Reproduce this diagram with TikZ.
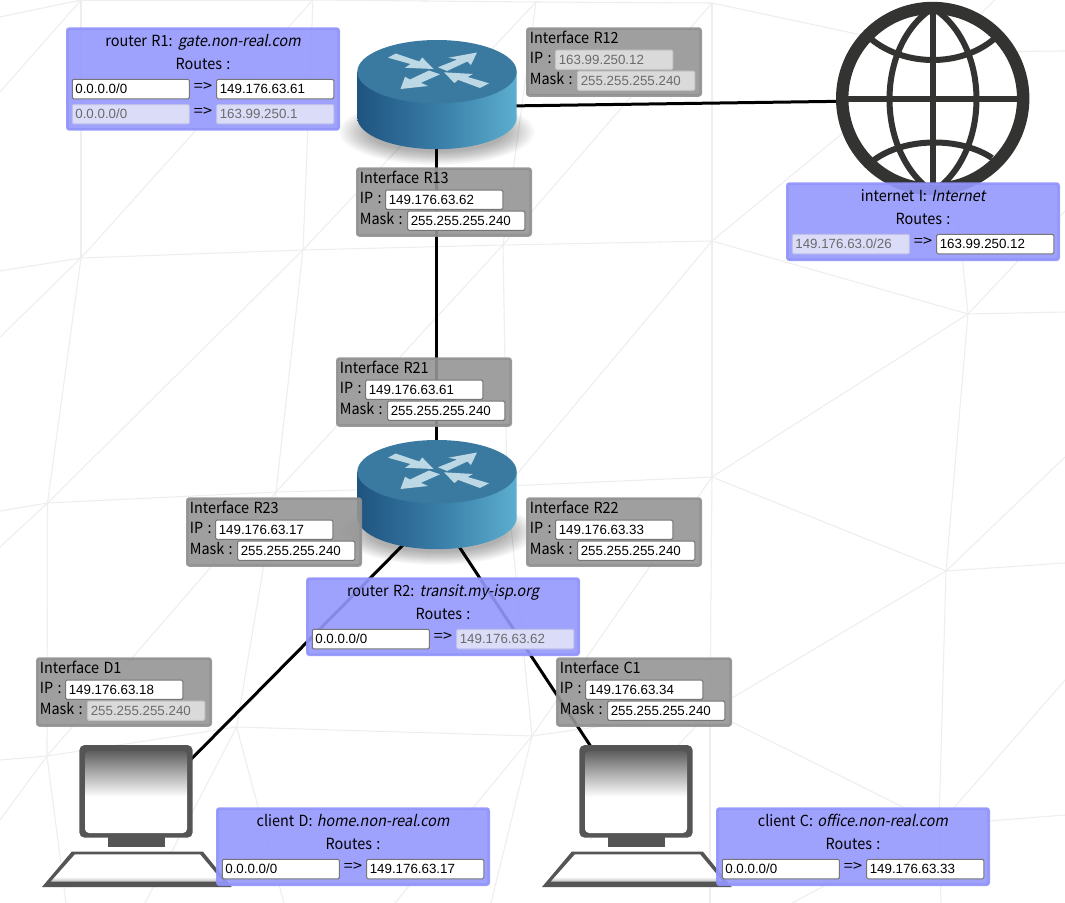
\documentclass[tikz,border=0pt]{standalone}
\usepackage{fontspec}
\setmainfont{Noto Sans CJK KR}[FakeStretch=0.94,WordSpace=1.35,ItalicFont={Noto Sans CJK KR},ItalicFeatures={FakeSlant=0.2,FakeStretch=0.94,WordSpace=1.35}]
\newfontfamily\inputfont{Liberation Sans}
\definecolor{meshc}{HTML}{EEEEEE}
\definecolor{graypanel}{HTML}{959595}
\definecolor{grayedge}{HTML}{909090}
\definecolor{bluepanel}{HTML}{9598FC}
\definecolor{blueedge}{HTML}{9093FA}
\definecolor{inedge}{HTML}{767676}
\definecolor{offgray}{HTML}{DADADA}
\definecolor{offblue}{HTML}{DBDCF8}
\definecolor{offgrayedge}{HTML}{C4C4C4}
\definecolor{offblueedge}{HTML}{BFC0E8}
\definecolor{offtext}{HTML}{6B6B6B}
\definecolor{globec}{HTML}{333331}
\definecolor{pcc}{HTML}{555555}
\definecolor{rtop}{HTML}{3B7AA0}
\definecolor{rleft}{HTML}{1F5480}
\definecolor{rmid}{HTML}{387CA6}
\definecolor{rright}{HTML}{5CAECF}
\definecolor{rarrow}{HTML}{BCD8E4}
\definecolor{screentop}{HTML}{5F5F5F}
\definecolor{kbdlow}{HTML}{BDBDBD}
\pgfdeclareverticalshading{monscreen}{100bp}{color(0bp)=(white); color(47bp)=(white); color(75bp)=(screentop); color(100bp)=(screentop)}
\pgfdeclareverticalshading{kbdshade}{100bp}{color(0bp)=(kbdlow); color(25bp)=(kbdlow); color(34bp)=(white); color(100bp)=(white)}
\pgfdeclarehorizontalshading{rside}{100bp}{color(0bp)=(rleft); color(25bp)=(rleft); color(50bp)=(rmid); color(75bp)=(rright); color(100bp)=(rright)}
\tikzset{
  meshline/.style={draw=meshc,line width=.8pt},
  link/.style={draw=black,line width=2.25pt},
  hub/.style={inner sep=0pt,minimum size=0pt,outer sep=0pt},
  panelgray/.style={draw=grayedge,fill=graypanel,opacity=.9,line width=2pt,rounded corners=1.6pt,anchor=north west,minimum width=130pt,minimum height=50.1pt,inner sep=0pt},
  panelblue/.style={draw=blueedge,fill=bluepanel,opacity=.9,line width=2pt,rounded corners=1.6pt,anchor=north west,minimum width=203.5pt,inner sep=0pt},
  labeltext/.style={inner sep=0pt,font=\fontsize{11.5pt}{13pt}\selectfont,text=black},
  inbase/.style={anchor=north west,outer sep=0pt,minimum height=14.6pt,text width=83.2pt,align=left,inner xsep=2.3pt,inner ysep=0pt,line width=.75pt,rounded corners=1pt,font=\inputfont\fontsize{10pt}{12pt}\selectfont,text height=7.4pt,text depth=.5pt},
  inon/.style={inbase,draw=inedge,fill=white,text=black},
  inoffg/.style={inbase,draw=offgrayedge,fill=offgray,text=offtext},
  inoffb/.style={inbase,draw=offblueedge,fill=offblue,text=offtext},
}
% name, x, y, title, ip, ip style, mask, mask style
\newcommand{\ifacepanel}[8]{%
  \begin{scope}[shift={(#2,#3)}]
    \node[panelgray] (#1) at (0,0) {};
    \node[labeltext,anchor=base west] (#1t) at (3.6,16) {#4};
    \node[labeltext,anchor=base west] (#1i) at (3.6,36) {IP :};
    \node[labeltext,anchor=base west] (#1m) at (3.6,57) {Mask :};
    \node[#6] (#1ip) at (29.7,22.7) {#5};
    \node[#8] (#1mk) at (51.7,43.7) {#7};
  \end{scope}}
% name, x, y, height, title, hostname
\newcommand{\routepanel}[6]{%
  \begin{scope}[shift={(#2,#3)}]
    \node[panelblue,minimum height=#4*.75pt-2pt] (#1) at (0,0) {};
    \node[labeltext,anchor=base] (#1t) at (137,19) {#5: \textit{#6}};
    \node[labeltext,anchor=base] (#1r) at (137,42) {Routes :};
  \end{scope}}
% name, x, y, row y, left, left style, right, right style
\newcommand{\routerow}[8]{%
  \begin{scope}[shift={(#2,#3)}]
    \node[#6] (#1a) at (6.3,#4) {#5};
    \node[labeltext,anchor=base] (#1s) at (137,#4+11.8) {\addfontfeature{FakeStretch=1.06}=>};
    \node[#8] (#1b) at (150.7,#4) {#7};
  \end{scope}}
\newcommand{\routericon}[1]{%
  \begin{scope}[yshift=#1*-.75pt]
    \foreach \k in {1,...,14}{
      \fill[black,opacity=.025] (437,132) ellipse ({100-\k*2.2} and {34-\k*1.0});
    }
    \shade[shading=rside] (357.3,71.7) -- (357.3,117.5) arc[start angle=180,end angle=360,x radius=79.7,y radius=-31.7] -- (516.7,71.7) -- cycle;
    \fill[rtop] (437,71.7) ellipse (79.7 and 31.7);
    \fill[rarrow] (388,57.7) -- (395.7,53.5) -- (419.3,61.5) -- (422.3,57.5) -- (433.5,69) -- (405,67.8) -- (410.5,64) -- cycle;
    \fill[rarrow] (477,52.5) -- (471,65) -- (467.3,61.5) -- (447,71) -- (438,67.3) -- (457.3,59.5) -- (448.5,57.7) -- cycle;
    \fill[rarrow] (400.5,89) -- (405,76.8) -- (410,79.5) -- (429,70.5) -- (440,74.3) -- (421,82.8) -- (428,86) -- cycle;
    \fill[rarrow] (444,72.3) -- (472.8,74) -- (467.8,77) -- (489,83.3) -- (480,88) -- (458,79.8) -- (454.5,83.2) -- cycle;
  \end{scope}}
\newcommand{\pcicon}[1]{%
  \begin{scope}[xshift=#1*.75pt]
    \fill[pcc] (108,836) rectangle (165,847);
    \fill[pcc,rounded corners=4pt] (79.3,745) rectangle (192.7,837.7);
    \shade[shading=monscreen,rounded corners=3pt] (85,751) rectangle (187,833);
    \fill[pcc] (71.7,851.7) -- (203,851.7) -- (231.7,887) -- (42,887) -- cycle;
    \shade[shading=kbdshade] (75,854.3) -- (200,854.3) -- (223,881.7) -- (50.7,881.7) -- cycle;
  \end{scope}}
\begin{document}
\begin{tikzpicture}[x=.75pt,y=-.75pt]
\useasboundingbox (0,0) rectangle (1065,903);
\fill[white] (0,0) rectangle (1065,903);
% background mesh
\foreach \n/\p in {A/{81,0},F/{313,0},S/{536,2},T/{712,3},U/{941,52},B/{81,258},C/{303,250},R/{503,245},G/{712,241},H/{968,314},D/{47.5,503},E/{276,492},Q/{507,486},I/{712,477},J/{946,571},K/{236.6,727},L/{47,756},M/{532,736},P/{710,711},N/{939,825},W/{590,840}}{\coordinate (m\n) at (\p);}
\foreach \a/\b in {A/F,F/S,S/T,A/B,B/F,F/C,S/C,S/R,T/R,T/G,T/U,C/B,C/R,R/G,C/D,C/E,B/D,D/E,E/R,E/Q,Q/I,R/Q,G/Q,G/I,G/U,G/H,U/H,H/I,H/J,I/J,D/L,E/K,E/L,K/L,K/M,Q/M,I/M,I/P,M/P,P/J,P/N,J/N,P/W}{\draw[meshline] (m\a) -- (m\b);}
\foreach \a/\b in {{0,17}/A,{0,92}/A,{0,271}/B,{0,337}/B,{0,511}/D,{0,547}/D,{0,760}/L,{0,820}/L,{66,903}/L,{145,903}/K,{284,903}/K,{395,903}/M,{491,903}/M,{710,903}/P,{792,903}/N,{941,903}/N,{1065,815}/N,{1065,680}/N,{1065,563}/J,{1065,457}/J,{1065,312}/H,{1065,211}/H,{1065,51}/U,{995,0}/U}{\draw[meshline] (\a) -- (m\b);}
% device anchors
\node[hub] (r1) at (436,107) {};
\node[hub] (r2) at (436,511.6) {};
\node[hub] (cd) at (136,815) {};
\node[hub] (cc) at (636,815) {};
\node[circle,inner sep=0pt,minimum size=145pt,outer sep=0pt,fill=white] (globe) at (932.7,100) {};
% connectors
\draw[link] (r1) -- (globe);
\draw[link] (r1) -- (r2);
\draw[link] (r2) -- (cd);
\draw[link] (r2) -- (cc);
% routers
\routericon{0}
\routericon{400}
% globe
\begin{scope}
  \draw[globec,line width=4.5pt] (933,3) -- (933,195);
  \draw[globec,line width=4.3pt] (840,99.3) -- (1025,99.3);
  \draw[globec,line width=4.5pt] (933,8) .. controls (875,45) and (875,153) .. (933,192);
  \draw[globec,line width=4.5pt] (933,8) .. controls (991,45) and (991,153) .. (933,192);
  \draw[globec,line width=4.5pt] (871,39) .. controls (905,67) and (961,67) .. (994,39);
  \draw[globec,line width=4.5pt] (874,160) .. controls (905,137) and (961,137) .. (992,158);
  \draw[globec,line width=9.3pt] (932.7,98.5) circle (90.5);
\end{scope}
% computers
\pcicon{0}
\pcicon{500}
% interface panels
\ifacepanel{ptwelve}{526}{27.3}{Interface R12}{163.99.250.12}{inoffg}{255.255.255.240}{inoffg}
\ifacepanel{pthirteen}{356}{167.3}{Interface R13}{149.176.63.62}{inon}{255.255.255.240}{inon}
\ifacepanel{ptwoone}{336}{357.3}{Interface R21}{149.176.63.61}{inon}{255.255.255.240}{inon}
\ifacepanel{ptwothree}{186}{497.3}{Interface R23}{149.176.63.17}{inon}{255.255.255.240}{inon}
\ifacepanel{ptwotwo}{526}{497.3}{Interface R22}{149.176.63.33}{inon}{255.255.255.240}{inon}
\ifacepanel{pdone}{36}{657.3}{Interface D1}{149.176.63.18}{inon}{255.255.255.240}{inoffg}
\ifacepanel{pcone}{556}{657.3}{Interface C1}{149.176.63.34}{inon}{255.255.255.240}{inon}
% route panels
\routepanel{rone}{66}{27.3}{103.4}{router R1}{gate.non-real.com}
\routerow{ronex}{66}{27.3}{52}{0.0.0.0/0}{inon}{149.176.63.61}{inon}
\routerow{roney}{66}{27.3}{77.2}{0.0.0.0/0}{inoffb}{163.99.250.1}{inoffb}
\routepanel{inet}{786}{182.3}{78.7}{internet I}{Internet}
\routerow{inetx}{786}{182.3}{52}{149.176.63.0/26}{inoffb}{163.99.250.12}{inon}
\routepanel{rtwo}{306}{577.3}{78.7}{router R2}{transit.my-isp.org}
\routerow{rtwox}{306}{577.3}{52}{0.0.0.0/0}{inon}{149.176.63.62}{inoffb}
\routepanel{cld}{216}{807.3}{78.7}{client D}{home.non-real.com}
\routerow{cldx}{216}{807.3}{52}{0.0.0.0/0}{inon}{149.176.63.17}{inon}
\routepanel{clc}{716}{807.3}{78.7}{client C}{office.non-real.com}
\routerow{clcx}{716}{807.3}{52}{0.0.0.0/0}{inon}{149.176.63.33}{inon}
\end{tikzpicture}
\end{document}
